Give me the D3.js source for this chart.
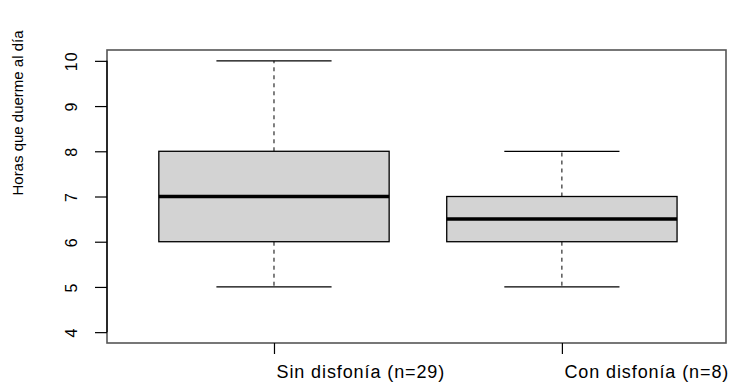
<!DOCTYPE html>
<html><head><meta charset="utf-8">
<script src="https://cdn.jsdelivr.net/npm/d3@7/dist/d3.min.js"></script>
<style>body{margin:0;background:#fff}svg{display:block}text{font-family:"Liberation Sans",Arial,sans-serif;fill:#000}</style>
</head><body><svg id="c" width="729" height="383"></svg>
<script>
const categories = ["Sin disfonía (n=29)", "Con disfonía (n=8)"];
const minVals = [5, 5];
const q1Vals = [6, 6];
const medianVals = [7, 6.5];
const q3Vals = [8, 7];
const maxVals = [10, 8];
const yTicks = [4, 5, 6, 7, 8, 9, 10];
const yLabel = "Horas que duerme al día";

const svg = d3.select("#c");
const L = 107, R = 726, T = 50, B = 343;
const x = d3.scaleLinear().domain([0.42, 2.57]).range([L, R]);
const y = d3.scaleLinear().domain([3.76, 10.24]).range([B, T]);
const boxW = x(0.8) - x(0);
const capW = boxW / 2;

const data = categories.map((c, i) => ({c, i: i + 1, min: minVals[i], q1: q1Vals[i], med: medianVals[i], q3: q3Vals[i], max: maxVals[i]}));

const g = svg.append("g");
data.forEach(d => {
  const cx = x(d.i);
  g.append("line").attr("x1", cx).attr("x2", cx).attr("y1", y(d.q3)).attr("y2", y(d.max))
    .attr("stroke", "#000").attr("stroke-dasharray", "4,4");
  g.append("line").attr("x1", cx).attr("x2", cx).attr("y1", y(d.q1)).attr("y2", y(d.min))
    .attr("stroke", "#000").attr("stroke-dasharray", "4,4");
  [d.min, d.max].forEach(v => g.append("line").attr("x1", cx - capW / 2).attr("x2", cx + capW / 2)
    .attr("y1", y(v)).attr("y2", y(v)).attr("stroke", "#000").attr("stroke-width", 1.2));
  g.append("rect").attr("x", cx - boxW / 2).attr("y", y(d.q3)).attr("width", boxW)
    .attr("height", y(d.q1) - y(d.q3)).attr("fill", "#d3d3d3").attr("stroke", "#000").attr("stroke-width", 1.3);
  g.append("line").attr("x1", cx - boxW / 2).attr("x2", cx + boxW / 2).attr("y1", y(d.med)).attr("y2", y(d.med))
    .attr("stroke", "#000").attr("stroke-width", 3.5);
});

svg.append("rect").attr("x", L).attr("y", T).attr("width", R - L).attr("height", B - T)
  .attr("fill", "none").attr("stroke", "#555").attr("stroke-width", 1.6);

const ya = d3.axisLeft(y).tickValues(yTicks).tickSize(12).tickFormat(d3.format("d"));
const yg = svg.append("g").attr("transform", `translate(${L},0)`).call(ya);
yg.select(".domain").remove();
yg.append("line").attr("x1", 0).attr("x2", 0).attr("y1", y(4)).attr("y2", y(10)).attr("stroke", "#000").attr("stroke-width", 1.3);
yg.selectAll(".tick line").attr("stroke", "#000").attr("stroke-width", 1.2);
yg.selectAll(".tick text").attr("font-size", 16).attr("letter-spacing", "1px")
  .attr("x", null).attr("dy", null)
  .attr("text-anchor", "middle").attr("transform", "translate(-36,0) rotate(-90)").attr("dy", "0.35em");

const xa = d3.axisBottom(x).tickValues([1, 2]).tickSize(11).tickFormat(d => categories[d - 1]);
const xg = svg.append("g").attr("transform", `translate(0,${B})`).call(xa);
xg.select(".domain").remove();
xg.selectAll(".tick line").attr("stroke", "#000").attr("stroke-width", 1.2);
xg.selectAll(".tick text").attr("font-size", 18).attr("letter-spacing", "0.9px")
  .attr("text-anchor", "start").attr("x", 2).attr("y", 22).attr("dy", "0.71em");

svg.append("text").attr("transform", "translate(23,113) rotate(-90)").attr("text-anchor", "middle")
  .attr("font-size", 15).text(yLabel);
</script></body></html>
